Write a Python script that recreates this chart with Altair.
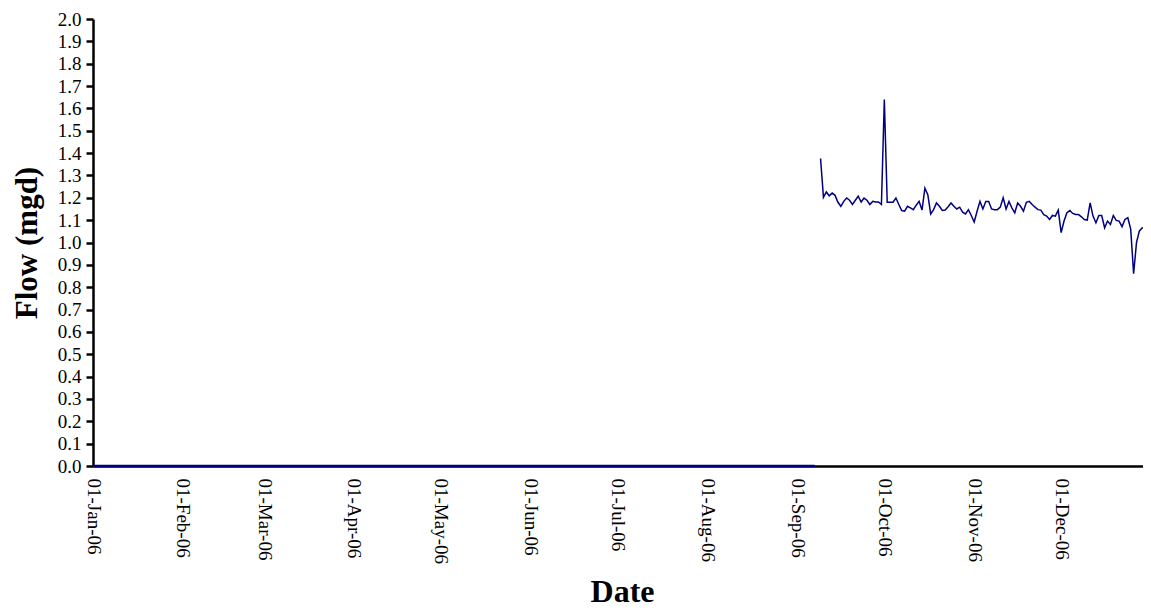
import altair as alt
import pandas as pd

# Zero-flow period (line lies on the axis)
zero_dates = ["2006-01-01", "2006-09-07"]
zero_flow = [0.0, 0.0]

# Daily flow values starting 09-Sep-06
flow_start = "2006-09-09"
flow = [
    1.376, 1.202, 1.226, 1.209, 1.221, 1.211, 1.180, 1.162, 1.184, 1.199,
    1.189, 1.170, 1.189, 1.207, 1.181, 1.199, 1.189, 1.170, 1.184, 1.181,
    1.181, 1.170, 1.640, 1.180, 1.180, 1.180, 1.199, 1.170, 1.143, 1.140,
    1.162, 1.155, 1.147, 1.167, 1.184, 1.145, 1.243, 1.214, 1.128, 1.147,
    1.177, 1.162, 1.143, 1.145, 1.160, 1.177, 1.162, 1.150, 1.158, 1.136,
    1.128, 1.147, 1.121, 1.092, 1.140, 1.184, 1.150, 1.184, 1.184, 1.150,
    1.147, 1.147, 1.158, 1.200, 1.150, 1.184, 1.155, 1.133, 1.177, 1.162,
    1.140, 1.180, 1.184, 1.170, 1.158, 1.147, 1.145, 1.125, 1.118, 1.103,
    1.121, 1.118, 1.145, 1.044, 1.096, 1.133, 1.143, 1.130, 1.125, 1.125,
    1.115, 1.103, 1.100, 1.177, 1.118, 1.088, 1.121, 1.121, 1.066, 1.096,
    1.081, 1.121, 1.099, 1.096, 1.071, 1.103, 1.111, 1.060, 0.860, 1.000,
    1.052, 1.066, 1.062, 1.081,
]

tick_months = list(range(1, 13))
y_ticks = [round(i * 0.1, 1) for i in range(21)]

df_zero = pd.DataFrame({"date": pd.to_datetime(zero_dates), "flow": zero_flow})
df_flow = pd.DataFrame({
    "date": pd.date_range(flow_start, periods=len(flow), freq="D"),
    "flow": flow,
})

FONT = "Liberation Serif"
W = 1050
H = 447

x_enc = alt.X(
    "date:T",
    scale=alt.Scale(domain=[alt.DateTime(year=2006, month=1, date=1),
                            alt.DateTime(year=2007, month=1, date=1)],
                    range=[0, 1058]),
    axis=alt.Axis(
        values=[alt.DateTime(year=2006, month=m, date=1) for m in tick_months],
        format="%d-%b-%y",
        labelAngle=90,
        ticks=False,
        labelPadding=12,
        labelFont=FONT,
        labelFontSize=19,
        labelColor="black",
        domainColor="black",
        domainWidth=2.5,
        grid=False,
        title="Date",
        titleFont=FONT,
        titleFontSize=32,
        titleFontWeight="bold",
        titleColor="black",
        titleBaseline="alphabetic",
        titleX=529,
        titleY=135,
    ),
)

y_enc = alt.Y(
    "flow:Q",
    scale=alt.Scale(domain=[0, 2], nice=False),
    axis=alt.Axis(
        values=y_ticks,
        format=".1f",
        tickSize=7,
        tickWidth=2.5,
        tickColor="black",
        labelPadding=5,
        labelFont=FONT,
        labelFontSize=19,
        labelColor="black",
        domainColor="black",
        domainWidth=2.5,
        grid=False,
        title="Flow (mgd)",
        titleFont=FONT,
        titleFontSize=31,
        titleFontWeight="bold",
        titleColor="black",
        titleBaseline="alphabetic",
        titleX=-57,
        titleY=H / 2,
    ),
)

zero_line = alt.Chart(df_zero).mark_line(color="#000080", strokeWidth=2.5).encode(x=x_enc, y=y_enc)
flow_line = alt.Chart(df_flow).mark_line(color="#000080", strokeWidth=1.5).encode(x=x_enc, y=y_enc)

chart = alt.layer(zero_line, flow_line).properties(
    width=W,
    height=H,
    autosize=alt.AutoSizeParams(type="none"),
    padding={"left": 85, "top": 11, "right": 0, "bottom": 142},
).configure_view(stroke=None, clip=False)

chart.save("out.html", embed_options={"renderer": "svg", "actions": False})
